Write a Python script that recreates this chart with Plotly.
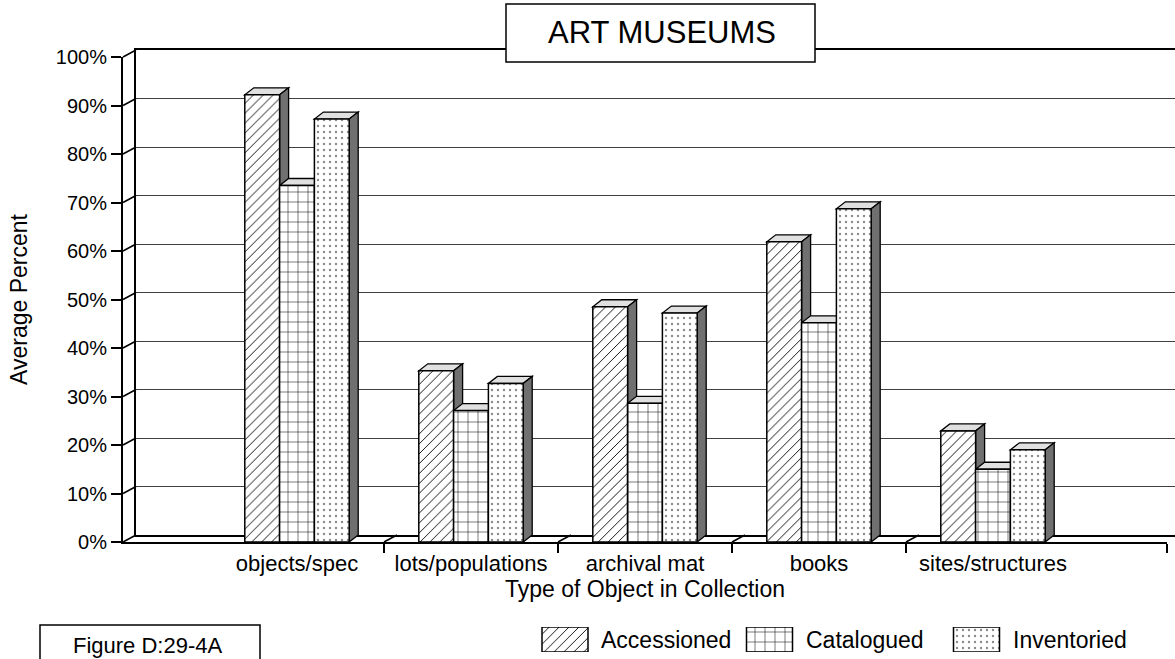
import plotly.graph_objects as go

# --- DATA ---
categories = ["objects/spec", "lots/populations", "archival mat", "books", "sites/structures"]
series_names = ["Accessioned", "Catalogued", "Inventoried"]
accessioned = [92.2, 35.3, 48.5, 61.9, 22.9]
catalogued = [73.5, 27.1, 28.6, 45.2, 15.0]
inventoried = [87.2, 32.7, 47.2, 68.7, 19.0]
y_ticks = [0, 10, 20, 30, 40, 50, 60, 70, 80, 90, 100]
y_tick_labels = ["0%", "10%", "20%", "30%", "40%", "50%", "60%", "70%", "80%", "90%", "100%"]

# --- CONFIG ---
FONT = "Liberation Sans, Arial, Helvetica, sans-serif"
W, H = 1175, 659
LEFT, TOP = 123, 50            # plot area origin (px)
FRONT_RIGHT = 1167             # end of the front x axis (px)
FRONT_Y0, FRONT_Y100 = 542, 57 # front y axis, 0% and 100% (px)
WALL_DX, WALL_DY = 13, 7       # depth of the back wall (px)
BAR_DX, BAR_DY = 9, 7          # depth of each bar (px)
X_MIN, X_MAX = -1, 5
BAR_W = 0.2

px_per_unit = (FRONT_RIGHT - LEFT) / (X_MAX - X_MIN)
px_per_pct = (FRONT_Y0 - FRONT_Y100) / 100


def xp(X):
    return (X - LEFT) / (W - LEFT)


def yp(Y):
    return (H - Y) / (H - TOP)


def xpx(x):
    return LEFT + (x - X_MIN) * px_per_unit


def ypx(v):
    return FRONT_Y0 - v * px_per_pct


series = [accessioned, catalogued, inventoried]
patterns = [
    dict(shape="/", size=7, solidity=0.13, fgcolor="black"),
    dict(shape="+", size=10, solidity=0.1, fgcolor="black"),
    dict(shape=".", size=6, solidity=0.12, fgcolor="#8a8a8a"),
]

fig = go.Figure()

# back wall subplot (only gridlines + frame)
fig.add_trace(go.Scatter(x=[], y=[], xaxis="x", yaxis="y", showlegend=False))

# front faces of the bars
for name, vals, pat in zip(series_names, series, patterns):
    fig.add_trace(go.Bar(
        x=list(range(len(categories))), y=vals, name=name,
        xaxis="x2", yaxis="y2", showlegend=False,
        marker=dict(color="white", line=dict(color="black", width=1.5),
                    pattern=dict(bgcolor="white", **pat)),
    ))

# 3D top + side faces, drawn under the front faces
ddx = BAR_DX / px_per_unit
ddy = BAR_DY / px_per_pct
for i in range(len(categories)):
    for j, vals in enumerate(series):
        x0 = i - 1.5 * BAR_W + j * BAR_W
        x1 = x0 + BAR_W
        v = vals[i]
        top = f"M {x0},{v} L {x1},{v} L {x1 + ddx},{v + ddy} L {x0 + ddx},{v + ddy} Z"
        side = f"M {x1},0 L {x1},{v} L {x1 + ddx},{v + ddy} L {x1 + ddx},{ddy} Z"
        fig.add_shape(type="path", path=top, xref="x2", yref="y2", layer="below",
                      fillcolor="#e0e0e0", line=dict(color="black", width=1.3))
        fig.add_shape(type="path", path=side, xref="x2", yref="y2", layer="below",
                      fillcolor="#707070", line=dict(color="black", width=1.3))

# depth connectors between front axes and back wall
for v in y_ticks:
    fig.add_shape(type="line", xref="paper", yref="paper",
                  x0=xp(LEFT), y0=yp(ypx(v)), x1=xp(LEFT + WALL_DX), y1=yp(ypx(v) - WALL_DY),
                  line=dict(color="black", width=1.5))
for t in [0.5, 1.5, 2.5, 3.5]:
    fig.add_shape(type="line", xref="paper", yref="paper",
                  x0=xp(xpx(t)), y0=yp(FRONT_Y0), x1=xp(xpx(t) + WALL_DX), y1=yp(FRONT_Y0 - WALL_DY),
                  line=dict(color="black", width=1.5))

# legend swatches in their own small subplot
legend_centers = [565, 769.5, 976.5]
fig.add_trace(go.Bar(
    x=legend_centers, y=[1, 1, 1], width=46, xaxis="x3", yaxis="y3", showlegend=False,
    hoverinfo="skip",
    marker=dict(color="white", line=dict(color="black", width=1.5),
                pattern=dict(shape=[p["shape"] for p in patterns],
                             size=[p["size"] for p in patterns],
                             solidity=[p["solidity"] for p in patterns],
                             fgcolor=[p["fgcolor"] for p in patterns],
                             bgcolor="white")),
))
for cx, name in zip(legend_centers, series_names):
    fig.add_annotation(text=name, x=cx + 34, y=0.5, xref="x3", yref="y3",
                       xanchor="left", yanchor="middle",
                       showarrow=False, font=dict(size=23))

# title box
fig.add_shape(type="rect", xref="paper", yref="paper", x0=xp(506), x1=xp(815), y0=yp(62), y1=yp(4),
              fillcolor="white", line=dict(color="black", width=1.5), layer="above")
fig.add_annotation(text="ART MUSEUMS", xref="paper", yref="paper", x=xp(662), y=yp(32),
                   xanchor="center", yanchor="middle",
                   showarrow=False, font=dict(size=31))

# figure label box
fig.add_shape(type="rect", xref="paper", yref="paper", x0=xp(40), x1=xp(260), y0=yp(672), y1=yp(625),
              fillcolor="white", line=dict(color="black", width=1.5), layer="above")
fig.add_annotation(text="Figure D:29-4A", xref="paper", yref="paper", x=xp(148), y=yp(645),
                   xanchor="center", yanchor="middle",
                   showarrow=False, font=dict(size=22))

hidden = dict(showline=False, showgrid=False, zeroline=False, showticklabels=False, ticks="",
              fixedrange=True)

fig.update_layout(
    width=W, height=H,
    margin=dict(l=LEFT, r=0, t=TOP, b=0),
    template="none",
    paper_bgcolor="white", plot_bgcolor="rgba(0,0,0,0)",
    font=dict(family=FONT, color="black", size=20),
    barmode="group", bargap=0.4, bargroupgap=0,
    showlegend=False,
    xaxis=dict(domain=[xp(LEFT + WALL_DX), 1], range=[0, 1], anchor="y",
               showline=True, mirror=True, linecolor="black", linewidth=2,
               showgrid=False, zeroline=False, showticklabels=False, ticks="", fixedrange=True),
    yaxis=dict(domain=[yp(FRONT_Y0 - WALL_DY), 1], range=[0, 100], anchor="x",
               showline=True, linecolor="black", linewidth=2,
               showgrid=True, gridcolor="#404040", gridwidth=1.2, tick0=0, dtick=10,
               zeroline=False, showticklabels=False, ticks="", fixedrange=True),
    xaxis2=dict(domain=[0, xp(FRONT_RIGHT)], range=[X_MIN, X_MAX], anchor="y2",
                showline=True, linecolor="black", linewidth=2, showgrid=False, zeroline=False,
                tickmode="array", tickvals=list(range(len(categories))), ticktext=categories,
                ticks="", tickfont=dict(size=22), ticklabelstandoff=1,
                minor=dict(tickmode="array", tickvals=[0.5, 1.5, 2.5, 3.5, 5],
                           ticks="outside", ticklen=9, tickwidth=2, tickcolor="black"),
                title=dict(text="Type of Object in Collection", font=dict(size=23), standoff=2),
                fixedrange=True),
    yaxis2=dict(domain=[yp(FRONT_Y0), yp(FRONT_Y100)], range=[0, 100], anchor="x2",
                showline=True, linecolor="black", linewidth=2, showgrid=False, zeroline=False,
                tickmode="array", tickvals=y_ticks, ticktext=y_tick_labels,
                ticks="outside", ticklen=10, tickwidth=2, tickcolor="black",
                tickfont=dict(size=20),
                title=dict(text="Average Percent", font=dict(size=23), standoff=22),
                fixedrange=True),
    xaxis3=dict(domain=[xp(480), 1], range=[480, 1175], anchor="y3", **hidden),
    yaxis3=dict(domain=[yp(652), yp(627)], range=[0, 1], anchor="x3", **hidden),
)

# the page body has a default 8px margin; remove it so the figure sits at (0, 0)
fig.write_html("out.html", config={"displayModeBar": False},
               post_script="document.body.style.margin='0';")
